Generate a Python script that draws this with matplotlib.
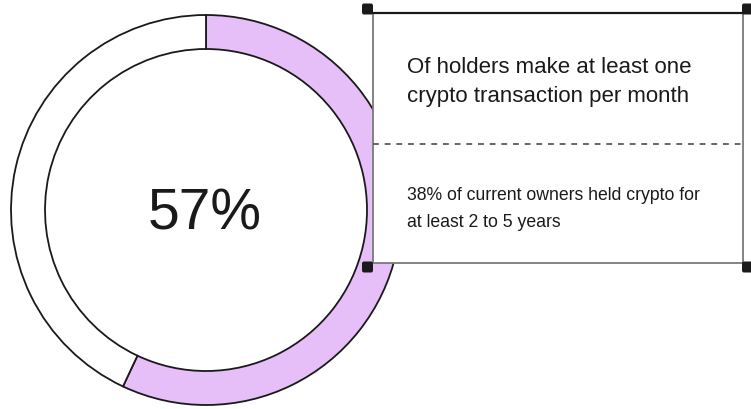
import matplotlib
matplotlib.use("Agg")
import matplotlib.pyplot as plt
from matplotlib.patches import Rectangle, FancyBboxPatch

plt.rcParams['font.family'] = ['Liberation Sans', 'DejaVu Sans']

# share of holders, rest of ring
share = [57, 43]
ring_colors = ['#e6bef8', 'white']
big_label = '57%'
headline = ['Of holders make at least one', 'crypto transaction per month']
detail = ['38% of current owners held crypto for', 'at least 2 to 5 years']

W, H = 751, 410
fig = plt.figure(figsize=(W / 100, H / 100), dpi=100)
ax = fig.add_axes([0, 0, 1, 1])

# donut ring, filled clockwise from 12 o'clock
ax.pie(share, colors=ring_colors, startangle=90, counterclock=False,
       radius=195, center=(206, H - 211),
       wedgeprops=dict(width=34, edgecolor='#1a1a1a', linewidth=1.3))

ax.text(205, H - 230, big_label, fontsize=41, color='#1a1a1a',
        ha='center', va='baseline')

# callout card sitting on top of the ring
x0, y0, x1, y1 = 373, 14, 743, 264
ax.add_patch(Rectangle((x0, H - y1), x1 - x0, y1 - y0, facecolor='white',
                       edgecolor='#7a7a7a', linewidth=1.3, zorder=3))
ax.plot([x0, x1], [H - y0, H - y0], color='#1a1a1a', lw=1.6, zorder=4)
ax.plot([x0, x1], [H - 145, H - 145], color='#666666', lw=1.4,
        dashes=(3, 3), zorder=4)

for cx, cy in [(367.5, 10), (747.5, 10), (367.5, 268), (747.5, 268)]:
    ax.add_patch(FancyBboxPatch((cx - 4.5, H - cy - 4.5), 9, 9,
                                boxstyle='round,pad=1,rounding_size=2',
                                facecolor='#1a1a1a', edgecolor='none', zorder=5))

for i, line in enumerate(headline):
    ax.text(407, H - 73 - 29 * i, line, fontsize=16, color='#1a1a1a',
            va='baseline', zorder=6)
for i, line in enumerate(detail):
    ax.text(407, H - 200 - 27 * i, line, fontsize=12.7, color='#1a1a1a',
            va='baseline', zorder=6)

ax.set_xlim(0, W)
ax.set_ylim(0, H)
ax.set_aspect('auto')
ax.axis('off')

fig.savefig('out.png', dpi=100, facecolor='white')
